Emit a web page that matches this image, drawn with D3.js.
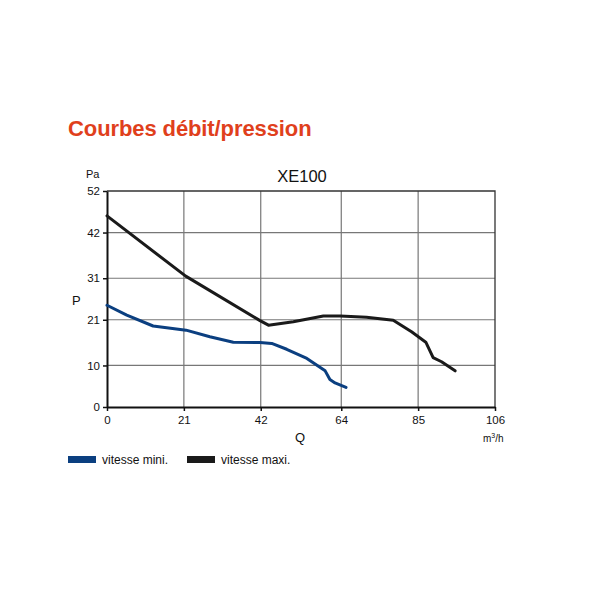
<!DOCTYPE html>
<html>
<head>
<meta charset="utf-8">
<script src="https://cdn.jsdelivr.net/npm/d3@7"></script>
<style>
  body { margin: 0; background: #fff; }
  svg { display: block; }
</style>
</head>
<body>
<div id="chart"></div>
<script>
// Données
const xTicks = [0, 21, 42, 64, 85, 106];
const yTicks = [0, 10, 21, 31, 42, 52];

// vitesse mini. (bleu)
const miniQ = [0, 5.4, 12.6, 21.6, 28.1, 34.5, 41.8, 45, 49.1, 54.6, 59.6, 60.9, 62.3, 65.3];
const miniP = [24.5, 22.1, 19.5, 18.5, 16.9, 15.6, 15.5, 15.3, 13.9, 11.7, 8.7, 6.6, 5.8, 4.7];

// vitesse maxi. (noir)
const maxiQ = [0, 21.5, 41.8, 44.1, 50.9, 59.1, 63.7, 70.9, 78.2, 83.2, 87.1, 89.1, 91.4, 95.1];
const maxiP = [46.0, 31.5, 20.8, 19.7, 20.5, 21.9, 21.9, 21.6, 20.9, 18.1, 15.6, 11.9, 10.9, 8.7];

const legendLabels = ['vitesse mini.', 'vitesse maxi.'];
const colors = ['#0b3f80', '#1a1a1a'];

const width = 600;
const height = 600;
const margin = { left: 107, right: 105, top: 191, bottom: 193 };

const svg = d3.select('#chart').append('svg')
  .attr('width', width)
  .attr('height', height);

const x = d3.scaleLinear().domain([0, 106]).range([margin.left, width - margin.right]);
const y = d3.scaleLinear().domain([0, 52]).range([height - margin.bottom, margin.top]);

const fontStd = 'Liberation Sans, Arial, Helvetica, sans-serif';
const fontNarrow = 'Liberation Sans Narrow, Arial Narrow, Liberation Sans, sans-serif';

// Titre
svg.append('text')
  .attr('x', 68)
  .attr('y', 136)
  .attr('font-family', fontStd)
  .attr('font-weight', 'bold')
  .attr('font-size', 22)
  .attr('letter-spacing', -0.1)
  .attr('fill', '#e0401c')
  .text('Courbes débit/pression');

// Sous-titre
svg.append('text')
  .attr('x', 302)
  .attr('y', 182)
  .attr('text-anchor', 'middle')
  .attr('font-family', fontStd)
  .attr('font-size', 16.5)
  .attr('fill', '#111')
  .text('XE100');

// Grille
svg.append('g')
  .selectAll('line')
  .data(xTicks.slice(1, -1))
  .enter()
  .append('line')
  .attr('x1', d => x(d))
  .attr('x2', d => x(d))
  .attr('y1', y(52))
  .attr('y2', y(0))
  .attr('stroke', '#777')
  .attr('stroke-width', 1.2);

svg.append('g')
  .selectAll('line')
  .data(yTicks.slice(1, -1))
  .enter()
  .append('line')
  .attr('x1', x(0))
  .attr('x2', x(106))
  .attr('y1', d => y(d))
  .attr('y2', d => y(d))
  .attr('stroke', '#777')
  .attr('stroke-width', 1.2);

// Cadre haut et droit
svg.append('path')
  .attr('d', `M${x(0)},${y(52)}H${x(106)}V${y(0)}`)
  .attr('fill', 'none')
  .attr('stroke', '#333')
  .attr('stroke-width', 1.3);

// Axes
const xAxis = svg.append('g')
  .attr('transform', `translate(0,${y(0)})`)
  .call(d3.axisBottom(x).tickValues(xTicks).tickSize(4).tickPadding(5).tickSizeOuter(0));

const yAxis = svg.append('g')
  .attr('transform', `translate(${x(0)},0)`)
  .call(d3.axisLeft(y).tickValues(yTicks).tickSize(4).tickPadding(3).tickSizeOuter(0));

[xAxis, yAxis].forEach(ax => {
  ax.select('.domain').attr('stroke', '#111').attr('stroke-width', 2);
  ax.selectAll('.tick line').attr('stroke', '#111').attr('stroke-width', 1.5);
  ax.selectAll('.tick text')
    .attr('font-family', fontStd)
    .attr('font-size', 11.5)
    .attr('fill', '#111');
});

// Libellés des axes
svg.append('text')
  .attr('x', 86)
  .attr('y', 178)
  .attr('font-family', fontStd)
  .attr('font-size', 11)
  .attr('fill', '#111')
  .text('Pa');

svg.append('text')
  .attr('x', 72)
  .attr('y', 305)
  .attr('font-family', fontStd)
  .attr('font-size', 13)
  .attr('fill', '#111')
  .text('P');

svg.append('text')
  .attr('x', 300)
  .attr('y', 442)
  .attr('text-anchor', 'middle')
  .attr('font-family', fontStd)
  .attr('font-size', 13)
  .attr('fill', '#111')
  .text('Q');

const unit = svg.append('text')
  .attr('x', 483)
  .attr('y', 442)
  .attr('font-family', fontStd)
  .attr('font-size', 10)
  .attr('fill', '#111');
unit.append('tspan').text('m');
unit.append('tspan').attr('font-size', 7).attr('dy', -4).text('3');
unit.append('tspan').attr('dy', 4).text('/h');

// Courbes
const line = d3.line()
  .x(d => x(d[0]))
  .y(d => y(d[1]))
  .curve(d3.curveLinear);

const series = [
  d3.zip(miniQ, miniP),
  d3.zip(maxiQ, maxiP)
];

svg.append('g')
  .selectAll('path')
  .data(series)
  .enter()
  .append('path')
  .attr('d', line)
  .attr('fill', 'none')
  .attr('stroke', (d, i) => colors[i])
  .attr('stroke-width', 3)
  .attr('stroke-linejoin', 'round')
  .attr('stroke-linecap', 'round');

// Légende
const legendX = [68, 187];
const legend = svg.append('g')
  .selectAll('g')
  .data(legendLabels)
  .enter()
  .append('g')
  .attr('transform', (d, i) => `translate(${legendX[i]},456)`);

legend.append('rect')
  .attr('width', 28)
  .attr('height', 7)
  .attr('fill', (d, i) => colors[i]);

legend.append('text')
  .attr('x', 34)
  .attr('y', 8)
  .attr('font-family', fontNarrow)
  .attr('font-size', 12)
  .attr('fill', '#111')
  .text(d => d);
</script>
</body>
</html>
